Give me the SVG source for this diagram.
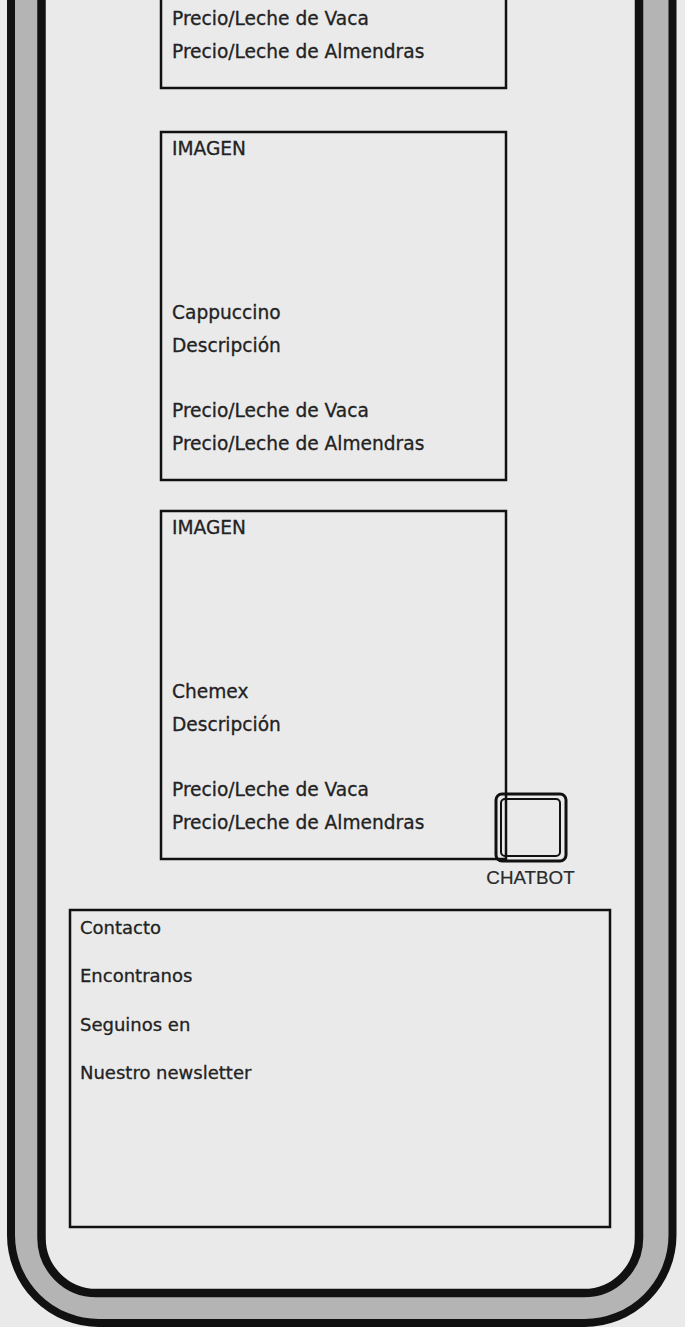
<svg xmlns="http://www.w3.org/2000/svg" width="685" height="1327" viewBox="0 0 685 1327">
<style>
.card{fill:none;stroke:#111;stroke-width:2.5}
.t{font-family:"DejaVu Sans","Liberation Sans",sans-serif;font-size:18px;fill:#222;stroke:#222;stroke-width:0.3}
.c{font-size:18.6px}
.cb{font-family:"Liberation Sans",Arial,sans-serif;font-size:18.8px;fill:#2a2a2a;stroke:#2a2a2a;stroke-width:0.2}
</style>
<rect width="685" height="1327" fill="#eaeaea"/>
<g id="phone">
<path d="M11,-20 V1235 A88,88 0 0 0 99,1323 H584.5 A88,88 0 0 0 672.5,1235 V-20 Z" fill="#b4b4b4" stroke="#111" stroke-width="8"/>
<path d="M41.5,-20 V1238 A55,55 0 0 0 96.5,1293 H584 A55,55 0 0 0 639,1238 V-20 Z" fill="#eaeaea" stroke="#111" stroke-width="8.5"/>
</g>
<g id="card1">
<rect class="card" x="161" y="-260" width="345" height="348"/>
<text class="t c" x="172" y="25">Precio/Leche de Vaca</text>
<text class="t c" x="172" y="58">Precio/Leche de Almendras</text>
</g>
<g id="card2">
<rect class="card" x="161" y="132" width="345" height="348"/>
<text class="t c" x="172" y="155">IMAGEN</text>
<text class="t c" x="172" y="319">Cappuccino</text>
<text class="t c" x="172" y="352">Descripción</text>
<text class="t c" x="172" y="417">Precio/Leche de Vaca</text>
<text class="t c" x="172" y="450">Precio/Leche de Almendras</text>
</g>
<g id="card3">
<rect class="card" x="161" y="511" width="345" height="348"/>
<text class="t c" x="172" y="534">IMAGEN</text>
<text class="t c" x="172" y="698">Chemex</text>
<text class="t c" x="172" y="731">Descripción</text>
<text class="t c" x="172" y="796">Precio/Leche de Vaca</text>
<text class="t c" x="172" y="829">Precio/Leche de Almendras</text>
</g>
<g id="chatbot">
<rect x="496" y="794" width="70" height="67" rx="6" fill="none" stroke="#111" stroke-width="3"/>
<rect x="501" y="799" width="59" height="57" rx="4" fill="none" stroke="#111" stroke-width="2"/>
<text class="cb" x="530.5" y="884" text-anchor="middle">CHATBOT</text>
</g>
<g id="footer">
<rect class="card" x="70" y="910" width="540" height="317"/>
<text class="t" x="80" y="934">Contacto</text>
<text class="t" x="80" y="982">Encontranos</text>
<text class="t" x="80" y="1031">Seguinos en</text>
<text class="t" x="80" y="1079">Nuestro newsletter</text>
</g>
</svg>
